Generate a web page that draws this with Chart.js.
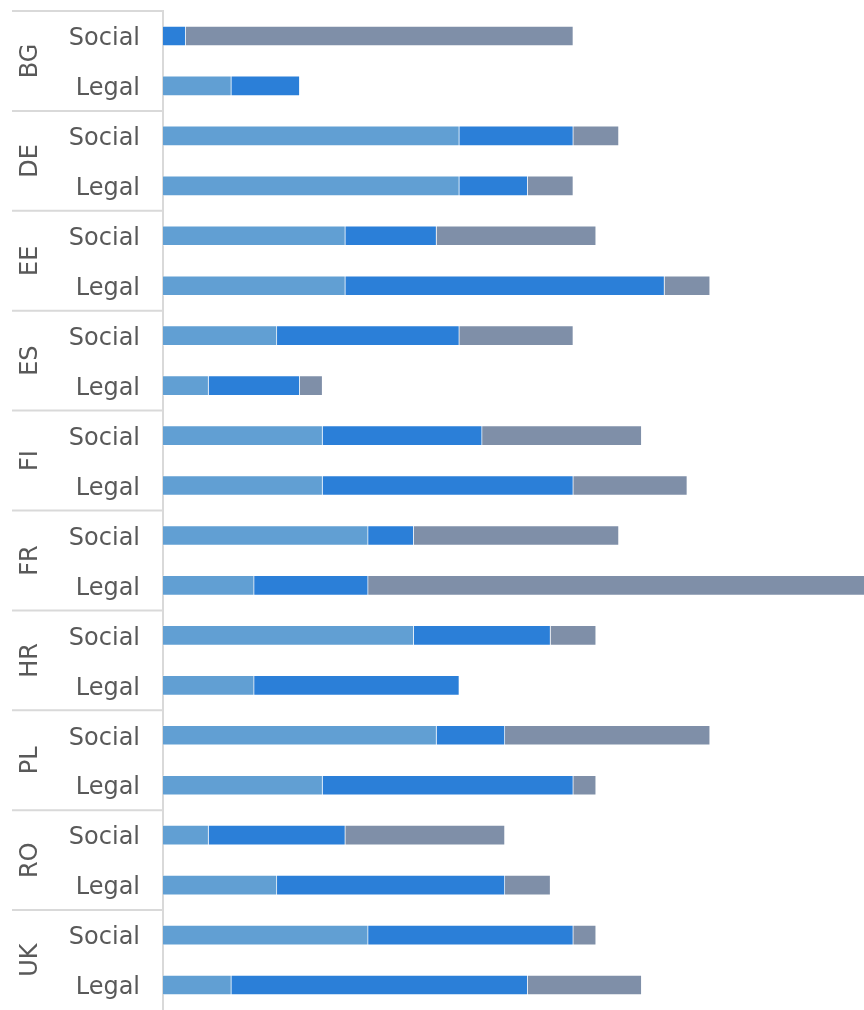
<!DOCTYPE html>
<html>
<head>
<meta charset="utf-8">
<script src="https://cdn.jsdelivr.net/npm/chart.js@4"></script>
<style>
  html, body { margin: 0; padding: 0; background: #fff; }
  #wrap { width: 864px; height: 1010px; }
</style>
</head>
<body>
<div id="wrap"><canvas id="myChart" width="864" height="1010"></canvas></div>
<script>
const countries = ['BG', 'DE', 'EE', 'ES', 'FI', 'FR', 'HR', 'PL', 'RO', 'UK'];
const kinds = ['Social', 'Legal'];

// values per row, in order: BG Social, BG Legal, DE Social, DE Legal, ...
const partA = [0, 3, 13, 13, 8, 8, 5, 2, 7, 7, 9, 4, 11, 4, 12, 7, 2, 5, 9, 3];
const partB = [1, 3, 5, 3, 4, 14, 8, 4, 7, 11, 2, 5, 6, 9, 3, 11, 6, 10, 9, 13];
const partC = [17, 0, 2, 2, 7, 2, 5, 1, 7, 5, 9, 22, 2, 0, 9, 1, 7, 2, 1, 5];

const labels = [];
countries.forEach(() => kinds.forEach(k => labels.push(k)));

const textColor = '#595959';
const lineColor = '#d9d9d9';
const font = "'DejaVu Sans', Verdana, sans-serif";

// draws the outer level of the axis: country names and group separators
const countryAxis = {
  id: 'countryAxis',
  afterDraw(chart) {
    const ctx = chart.ctx;
    const y = chart.scales.y;
    const half = (y.getPixelForValue(1) - y.getPixelForValue(0)) / 2;
    ctx.save();
    ctx.strokeStyle = lineColor;
    ctx.lineWidth = 2;
    countries.forEach((c, i) => {
      const top = y.getPixelForValue(i * 2) - half;
      ctx.beginPath();
      ctx.moveTo(12, top);
      ctx.lineTo(chart.chartArea.left - 1, top);
      ctx.stroke();

      const mid = top + half * 2;
      ctx.save();
      ctx.translate(31, mid);
      ctx.rotate(-Math.PI / 2);
      ctx.fillStyle = textColor;
      ctx.font = '24px ' + font;
      ctx.textAlign = 'center';
      ctx.textBaseline = 'middle';
      ctx.fillText(c, 0, 0);
      ctx.restore();
    });
    ctx.restore();
  }
};

const edge = 'rgba(255,255,255,0.35)';

new Chart(document.getElementById('myChart'), {
  type: 'bar',
  data: {
    labels: labels,
    datasets: [
      { label: 'A', data: partA, backgroundColor: '#619fd3', borderColor: edge, borderWidth: 1, barThickness: 20 },
      { label: 'B', data: partB, backgroundColor: '#2b7fd8', borderColor: edge, borderWidth: 1, barThickness: 20 },
      { label: 'C', data: partC, backgroundColor: '#7f8fa8', borderColor: edge, borderWidth: 1, barThickness: 20 }
    ]
  },
  options: {
    indexAxis: 'y',
    responsive: false,
    animation: false,
    layout: { padding: { top: 11, bottom: -1, left: 0, right: 0 } },
    plugins: {
      legend: { display: false },
      tooltip: { enabled: false }
    },
    scales: {
      x: {
        stacked: true,
        display: false,
        min: 0,
        max: 30.75
      },
      y: {
        stacked: true,
        grid: { display: false, drawTicks: false },
        border: { display: true, color: lineColor, width: 2 },
        ticks: {
          color: textColor,
          padding: 23,
          labelOffset: 3,
          font: { family: font, size: 24 }
        },
        afterFit(scale) {
          scale.width = 163;
          scale.paddingTop = 0;
          scale.paddingBottom = 0;
        }
      }
    }
  },
  plugins: [countryAxis]
});
</script>
</body>
</html>
